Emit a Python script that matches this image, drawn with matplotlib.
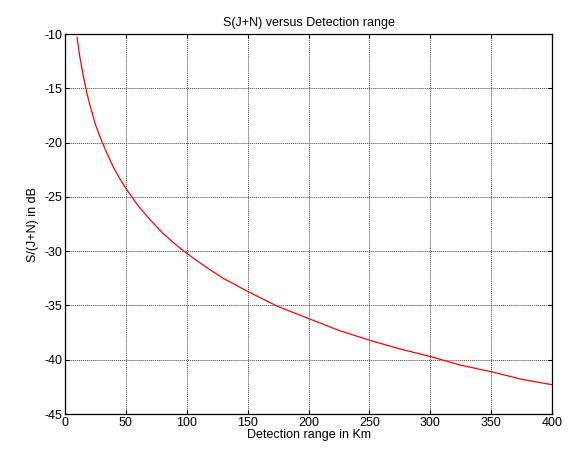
import matplotlib
matplotlib.use("Agg")
import matplotlib.pyplot as plt

# detection range (km) and S/(J+N) (dB)
range_km = [10, 12, 15, 18, 20, 25, 30, 35, 40, 45, 50, 60, 70, 80, 90, 100,
            115, 130, 150, 175, 200, 225, 250, 275, 300, 325, 350, 375, 400]
sjn_db = [-10.3, -11.9, -13.8, -15.4, -16.3, -18.3, -19.8, -21.1, -22.3, -23.3,
          -24.2, -25.8, -27.1, -28.3, -29.3, -30.2, -31.4, -32.5, -33.7, -35.1,
          -36.2, -37.3, -38.2, -39.0, -39.7, -40.5, -41.1, -41.8, -42.3]

plt.rcParams['font.family'] = ['Liberation Sans', 'DejaVu Sans']
plt.rcParams['font.size'] = 9
plt.rcParams['axes.unicode_minus'] = False

fig = plt.figure(figsize=(5.74, 4.54), dpi=100)
ax = fig.add_axes([0.113, 0.088, 0.849, 0.837])
ax.plot(range_km, sjn_db, color='red', linewidth=0.9)
ax.set_xlim(0, 400)
ax.set_ylim(-45, -10)
ax.set_xticks(range(0, 401, 50))
ax.set_yticks(range(-45, -9, 5))
ax.grid(True, color='#444444', linestyle=(0, (1, 1)), linewidth=0.7)
ax.tick_params(direction='in', top=True, right=True, length=3, pad=2)
for s in ax.spines.values():
    s.set_linewidth(0.9)
ax.set_title('S(J+N) versus Detection range', fontsize=9, pad=6)
ax.set_xlabel('Detection range in Km', labelpad=0)
ax.set_ylabel('S/(J+N) in dB', labelpad=4)

fig.savefig('out.png', dpi=100)
